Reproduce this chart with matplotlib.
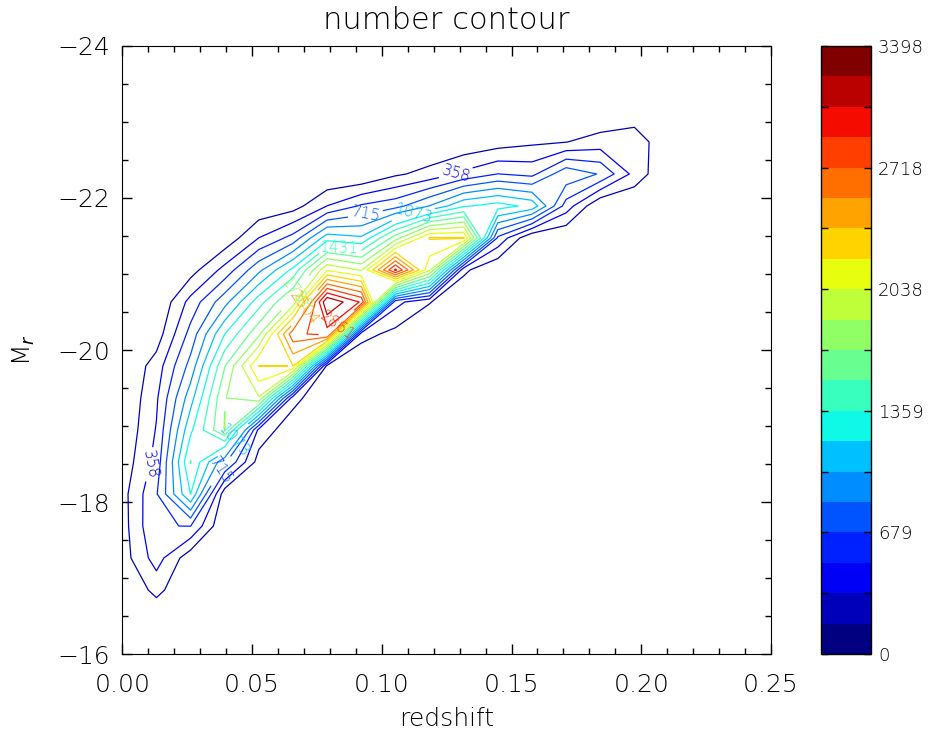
import numpy as np
import matplotlib
matplotlib.use('Agg')
import matplotlib.pyplot as plt
from matplotlib.colors import ListedColormap, BoundaryNorm
from matplotlib.cm import ScalarMappable
from matplotlib.ticker import MultipleLocator, FixedLocator, FormatStrFormatter

plt.rcParams['font.family'] = ['DejaVu Sans']
plt.rcParams['font.weight'] = 'light'
plt.rcParams['axes.titleweight'] = 'light'
plt.rcParams['axes.labelweight'] = 'light'

# 20 x 20 histogram nodes: redshift 0..0.25, M_r -16..-24
redshift = np.linspace(0.0, 0.25, 20)
mag = np.linspace(-16.0, -24.0, 20)

# counts[j][i] -> row j = magnitude node, column i = redshift node
counts = np.array([
    [0,    0,    0,    0,    0,    0,    0,    0,    0,    0,    0,    0,    0,    0,    0,    0,   0, 0, 0, 0],
    [0,    0,    0,    0,    0,    0,    0,    0,    0,    0,    0,    0,    0,    0,    0,    0,   0, 0, 0, 0],
    [0,  235,    0,    0,    0,    0,    0,    0,    0,    0,    0,    0,    0,    0,    0,    0,   0, 0, 0, 0],
    [90, 440,   60,    0,    0,    0,    0,    0,    0,    0,    0,    0,    0,    0,    0,    0,   0, 0, 0, 0],
    [100, 530, 540,    0,    0,    0,    0,    0,    0,    0,    0,    0,    0,    0,    0,    0,   0, 0, 0, 0],
    [110, 520, 1255,  60,    0,    0,    0,    0,    0,    0,    0,    0,    0,    0,    0,    0,   0, 0, 0, 0],
    [60,  420, 1440, 750,  100,    0,    0,    0,    0,    0,    0,    0,    0,    0,    0,    0,   0, 0, 0, 0],
    [20,  370, 1216, 1800, 300,   50,    0,    0,    0,    0,    0,    0,    0,    0,    0,    0,   0, 0, 0, 0],
    [0,   330, 1000, 1780, 1950, 250,    0,    0,    0,    0,    0,    0,    0,    0,    0,    0,   0, 0, 0, 0],
    [0,   260,  780, 1600, 2330, 2324, 120,    0,    0,    0,    0,    0,    0,    0,    0,    0,   0, 0, 0, 0],
    [0,    80,  600, 1250, 1750, 2800, 2950, 250,  120,    0,    0,    0,    0,    0,    0,    0,   0, 0, 0, 0],
    [0,     0,  420,  830, 1350, 1850, 3398, 3017, 420,  190,    0,    0,    0,    0,    0,    0,   0, 0, 0, 0],
    [0,     0,  100,  420,  850, 1300, 2130, 1950, 3080, 2000, 220,    0,    0,    0,    0,    0,   0, 0, 0, 0],
    [0,     0,    0,   50,  360,  600, 1170, 1100, 1700, 2340, 2345, 500,    0,    0,    0,    0,   0, 0, 0, 0],
    [0,     0,    0,    0,   40,  100,  360,  560,  650,  900, 1230, 1330, 1200, 455,    0,    0,   0, 0, 0, 0],
    [0,     0,    0,    0,    0,    0,    0,    0,  150,  240,  400,  540,  487,  849,  700,  298,  0, 0, 0, 0],
    [0,     0,    0,    0,    0,    0,    0,    0,    0,    0,   30,   90,  145,  175,  255,  314,  0, 0, 0, 0],
    [0,     0,    0,    0,    0,    0,    0,    0,    0,    0,    0,    0,    0,    0,    0,   20,  0, 0, 0, 0],
    [0,     0,    0,    0,    0,    0,    0,    0,    0,    0,    0,    0,    0,    0,    0,    0,  0, 0, 0, 0],
    [0,     0,    0,    0,    0,    0,    0,    0,    0,    0,    0,    0,    0,    0,    0,    0,  0, 0, 0, 0],
], dtype=float)

NLEV = 19
vmax = counts.max()
levels = vmax * np.arange(1, NLEV) / NLEV

# where the level labels sit (level index -> points)
label_spots = {
    2: [(0.129, -22.29), (0.0099, -18.5)],
    4: [(0.094, -21.74), (0.036, -18.45)],
    6: [(0.112, -21.8), (0.043, -18.8)],
    8: [(0.084, -21.47)],
    10: [(0.0665, -20.75)],
    14: [(0.0685, -20.59)],
    16: [(0.0827, -20.33)],
}

jet = plt.get_cmap('jet')
band_colors = jet(np.arange(NLEV + 1) / NLEV)

fig = plt.figure(figsize=(9.3, 7.37), dpi=100)
ax = fig.add_axes([0.1315, 0.1126, 0.6975, 0.825])

# one contour set per level so every level can get its own labels
for k, lev in enumerate(levels, start=1):
    cs = ax.contour(redshift, mag, counts, levels=[lev], colors=[jet(k / NLEV)],
                    linewidths=0.9)
    if k in label_spots:
        cs.clabel(manual=label_spots[k], inline=True, inline_spacing=3,
                  fontsize=11, fmt=lambda v: f'{v:.0f}')

ax.set_xlim(0, 0.25)
ax.set_ylim(-16, -24)
ax.xaxis.set_major_locator(MultipleLocator(0.05))
ax.xaxis.set_minor_locator(MultipleLocator(0.01))
ax.yaxis.set_major_locator(MultipleLocator(2))
ax.yaxis.set_minor_locator(MultipleLocator(0.5))
ax.xaxis.set_major_formatter(FormatStrFormatter('%.2f'))
ax.tick_params(which='both', direction='in', top=True, right=True, labelsize=18)
ax.tick_params(which='major', length=7, width=1)
ax.tick_params(which='minor', length=4, width=1)
ax.tick_params(axis='x', pad=14)
ax.tick_params(axis='y', pad=9)

ax.set_xlabel('redshift', fontsize=18, labelpad=7)
ax.set_ylabel(r'M$_{\mathit{r}}$', fontsize=18, labelpad=14)
ax.set_title('number contour', fontsize=22, pad=12)

# colour bar
cax = fig.add_axes([0.8828, 0.1126, 0.0538, 0.825])
bounds = np.linspace(0, vmax, NLEV + 2)
sm = ScalarMappable(norm=BoundaryNorm(bounds, NLEV + 1), cmap=ListedColormap(band_colors))
cticks = np.linspace(0, vmax, 6)
cb = fig.colorbar(sm, cax=cax, ticks=cticks)
cb.ax.set_yticklabels([f'{int(v)}' for v in cticks])
cb.ax.yaxis.set_minor_locator(FixedLocator(np.linspace(0, vmax, 11)))
cb.ax.tick_params(which='both', direction='in', left=True, right=True,
                  length=5, width=1, labelsize=13, pad=5)
cb.outline.set_linewidth(1)

fig.savefig('out.png', dpi=100)
